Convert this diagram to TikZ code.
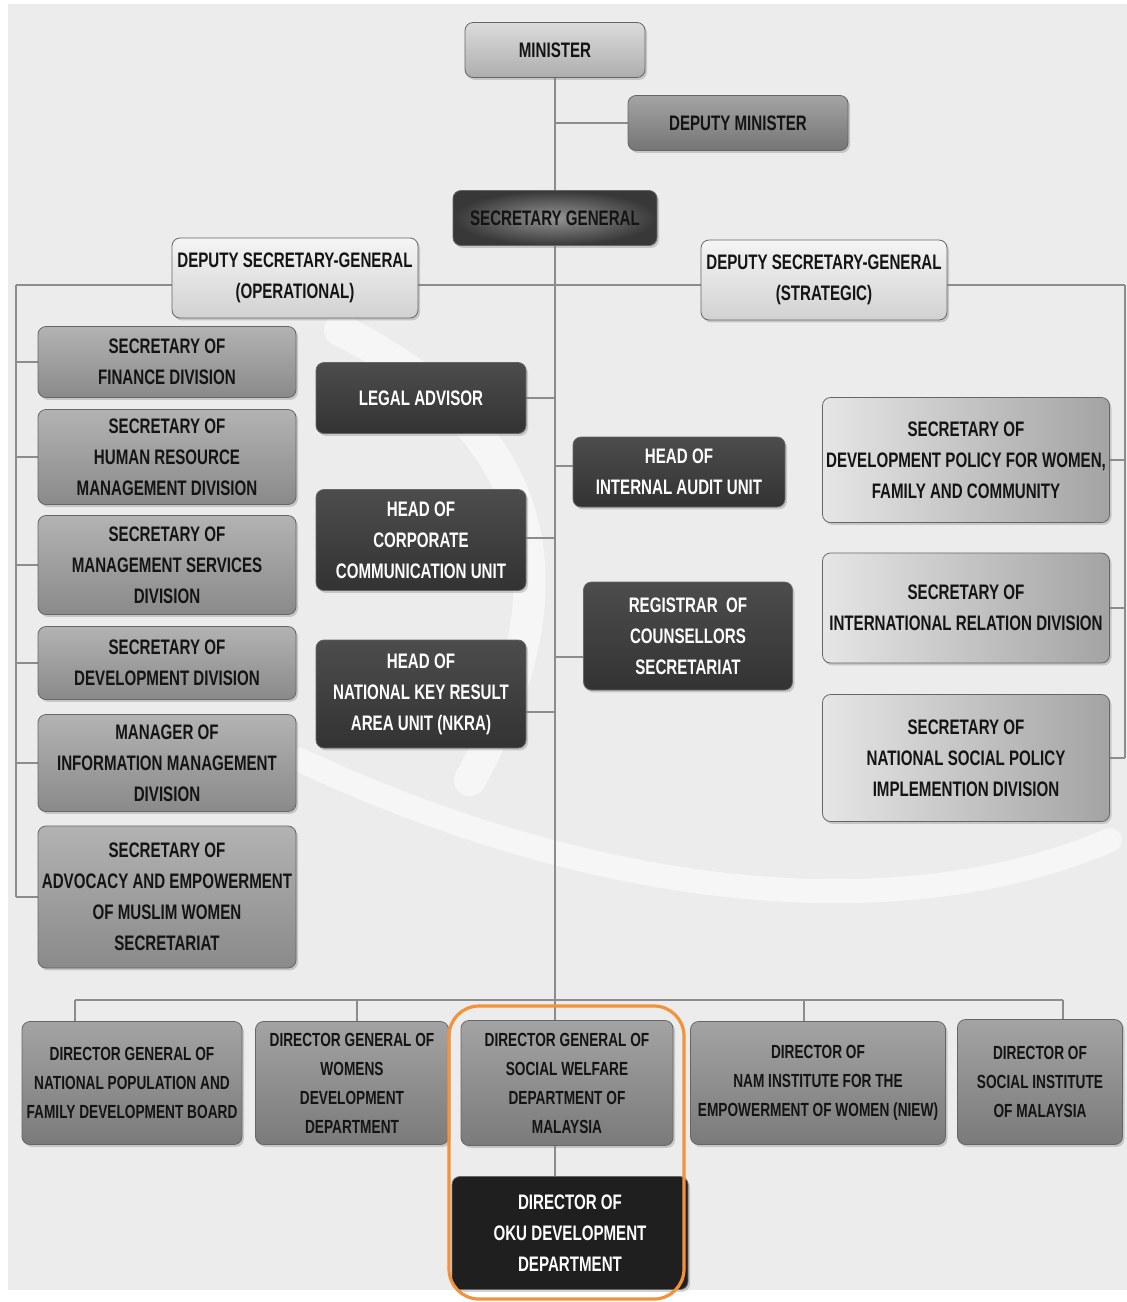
\documentclass[tikz,border=0pt]{standalone}
\usepackage{fontspec}
\newfontfamily\orgfont[FakeStretch=0.72]{Liberation Sans}
\usetikzlibrary{positioning,shadows,backgrounds}

\definecolor{org-line}{HTML}{8C8C8C}
\definecolor{org-bg}{HTML}{ECECEC}
\definecolor{org-frame}{HTML}{F2923A}
\definecolor{org-ink}{HTML}{141414}

\tikzset{
  orgbox/.style={draw=black!60, rounded corners=4pt, align=center, inner sep=1pt,
    text=org-ink, font=\orgfont\bfseries\fontsize{10.5}{15.5}\selectfont,
    drop shadow={opacity=0.35, shadow xshift=1pt, shadow yshift=-1.2pt}},
  minbox/.style={orgbox, top color=black!14, bottom color=black!32},
  dmbox/.style={orgbox, top color=black!36, bottom color=black!54},
  sgbox/.style={orgbox, inner color=black!42, outer color=black!78},
  dsgbox/.style={orgbox, top color=black!4, bottom color=black!18},
  leftbox/.style={orgbox, top color=black!30, bottom color=black!46},
  darkbox/.style={orgbox, top color=black!70, bottom color=black!80, text=white},
  rightbox/.style={orgbox, left color=black!10, right color=black!36},
  botbox/.style={orgbox, top color=black!36, bottom color=black!52,
    font=\orgfont\bfseries\fontsize{9.5}{14.5}\selectfont},
  okubox/.style={orgbox, fill=black!88, text=white},
  link/.style={draw=org-line, line width=0.8pt},
  hilite/.style={draw=org-frame, line width=1.6pt, rounded corners=15pt}
}

\begin{document}
\begin{tikzpicture}[x=0.5pt, y=-0.5pt]
  \useasboundingbox (0,0) rectangle (1127,1302);

  % top of the tree
  \node[minbox, minimum width=90pt, minimum height=27.5pt] (min) at (555,50) {MINISTER};
  \node[dmbox, minimum width=110pt, minimum height=27.5pt] (dm) at (738,123) {DEPUTY MINISTER};
  \node[sgbox, minimum width=102pt, minimum height=27.5pt] (sg) at (555,218) {SECRETARY GENERAL};
  \node[dsgbox, minimum width=123pt, minimum height=40pt] (dsgo) at (295,278)
    {DEPUTY SECRETARY-GENERAL\\(OPERATIONAL)};
  \node[dsgbox, minimum width=123pt, minimum height=40pt] (dsgs) at (824,280)
    {DEPUTY SECRETARY-GENERAL\\(STRATEGIC)};

  % operational divisions
  \node[leftbox, minimum width=129pt, minimum height=35.5pt] (fin) at (167,362)
    {SECRETARY OF\\FINANCE DIVISION};
  \node[leftbox, minimum width=129pt, minimum height=47.5pt] (hr) at (167,457)
    {SECRETARY OF\\HUMAN RESOURCE\\MANAGEMENT DIVISION};
  \node[leftbox, minimum width=129pt, minimum height=49.5pt] (ms) at (167,565)
    {SECRETARY OF\\MANAGEMENT SERVICES\\DIVISION};
  \node[leftbox, minimum width=129pt, minimum height=36.5pt] (dev) at (167,663)
    {SECRETARY OF\\DEVELOPMENT DIVISION};
  \node[leftbox, minimum width=129pt, minimum height=48.5pt] (info) at (167,763)
    {MANAGER OF\\INFORMATION MANAGEMENT\\DIVISION};
  \node[leftbox, minimum width=129pt, minimum height=71pt] (adv) at (167,897)
    {SECRETARY OF\\ADVOCACY AND EMPOWERMENT\\OF MUSLIM WOMEN\\SECRETARIAT};

  % units under the secretary general
  \node[darkbox, minimum width=105pt, minimum height=35.5pt] (legal) at (421,398) {LEGAL ADVISOR};
  \node[darkbox, minimum width=105pt, minimum height=50.5pt] (corp) at (421,540)
    {HEAD OF\\CORPORATE\\COMMUNICATION UNIT};
  \node[darkbox, minimum width=105pt, minimum height=54pt] (nkra) at (421,694)
    {HEAD OF\\NATIONAL KEY RESULT\\AREA UNIT (NKRA)};
  \node[darkbox, minimum width=106pt, minimum height=35pt] (audit) at (679,472)
    {HEAD OF\\INTERNAL AUDIT UNIT};
  \node[darkbox, minimum width=104.5pt, minimum height=54pt] (reg) at (688,636)
    {REGISTRAR~ OF\\COUNSELLORS\\SECRETARIAT};

  % strategic divisions
  \node[rightbox, minimum width=143.5pt, minimum height=62.5pt] (devpol) at (966,460)
    {SECRETARY OF\\DEVELOPMENT POLICY FOR WOMEN,\\FAMILY AND COMMUNITY};
  \node[rightbox, minimum width=143.5pt, minimum height=55pt] (intl) at (966,608)
    {SECRETARY OF\\INTERNATIONAL RELATION DIVISION};
  \node[rightbox, minimum width=143.5pt, minimum height=63.5pt] (nsp) at (966,758)
    {SECRETARY OF\\NATIONAL SOCIAL POLICY\\IMPLEMENTION DIVISION};

  % agencies
  \node[botbox, minimum width=110pt, minimum height=61.5pt] (npfdb) at (132,1083)
    {DIRECTOR GENERAL OF\\NATIONAL POPULATION AND\\FAMILY DEVELOPMENT BOARD};
  \node[botbox, minimum width=96.5pt, minimum height=61.5pt] (wdd) at (352,1083)
    {DIRECTOR GENERAL OF\\WOMENS\\DEVELOPMENT\\DEPARTMENT};
  \node[botbox, minimum width=106pt, minimum height=62.5pt] (swd) at (567,1083)
    {DIRECTOR GENERAL OF\\SOCIAL WELFARE\\DEPARTMENT OF\\MALAYSIA};
  \node[botbox, minimum width=127.5pt, minimum height=61.5pt] (niew) at (818,1083)
    {DIRECTOR OF\\NAM INSTITUTE FOR THE\\EMPOWERMENT OF WOMEN (NIEW)};
  \node[botbox, minimum width=82.5pt, minimum height=62.5pt] (sim) at (1040,1082)
    {DIRECTOR OF\\SOCIAL INSTITUTE\\OF MALAYSIA};
  \node[okubox, minimum width=118pt, minimum height=56.5pt] (oku) at (570,1233)
    {DIRECTOR OF\\OKU DEVELOPMENT\\DEPARTMENT};

  \draw[hilite] (449,1006) rectangle (684,1299);

  \begin{scope}[on background layer]
    \fill[org-bg] (8,4) rectangle (1127,1290);
    \draw[white, line width=16pt, opacity=0.55, line cap=round]
      (340,330) .. controls (520,420) and (590,560) .. (470,780);
    \draw[white, line width=12pt, opacity=0.55, line cap=round]
      (300,760) .. controls (600,900) and (900,930) .. (1110,840);

    \coordinate (lTop) at (16,285);
    \coordinate (rTop) at (1125,285);
    \draw[link] (lTop) -- (rTop);
    \draw[link] (lTop) -- (lTop |- adv.west);
    \draw[link] (rTop) -- (rTop |- nsp.east);
    \foreach \n in {fin,hr,ms,dev,info,adv}
      \draw[link] (lTop |- \n.west) -- (\n.west);
    \foreach \n in {devpol,intl,nsp}
      \draw[link] (\n.east) -- (\n.east -| rTop);

    \foreach \n/\x in {npfdb/75, wdd/357, swd/555, niew/804, sim/1063} {
      \coordinate (d-\n) at (\x,1000);
      \draw[link] (d-\n) -- (d-\n |- \n.north);
    }
    \draw[link] (d-npfdb) -- (d-sim);
    \draw[link] (min.south) -- (d-swd);
    \draw[link] (dm.west) -- (dm.west -| min.south);

    \foreach \n/\s in {legal/0, corp/1, nkra/-9}
      \draw[link] ([yshift=\s pt]\n.east) -- ([yshift=\s pt]\n.east -| min.south);
    \foreach \n/\s in {audit/3, reg/-10.5}
      \draw[link] ([yshift=\s pt]\n.west) -- ([yshift=\s pt]\n.west -| min.south);

    \draw[link] (swd.south -| d-swd) -- (oku.north -| d-swd);
  \end{scope}
\end{tikzpicture}
\end{document}
